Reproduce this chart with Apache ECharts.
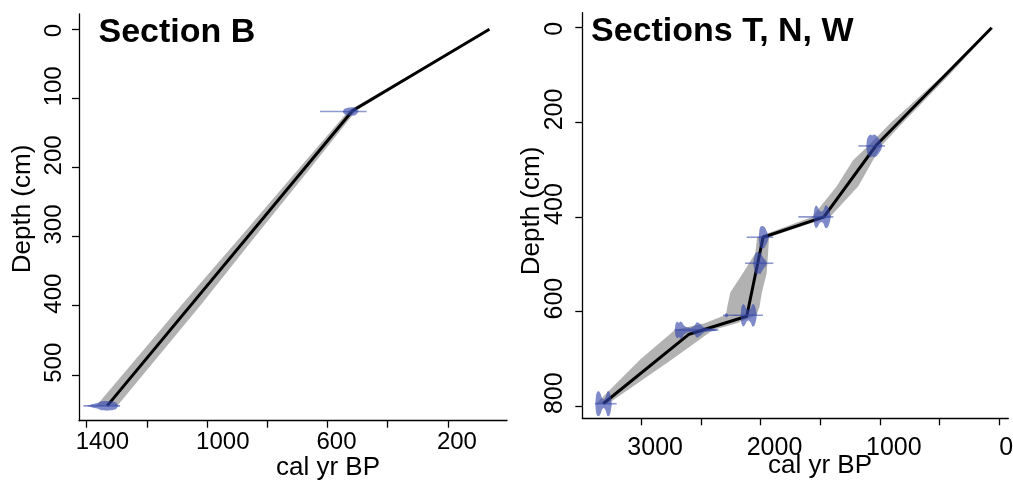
<!DOCTYPE html>
<html><head><meta charset="utf-8">
<script src="https://cdn.jsdelivr.net/npm/echarts@6/dist/echarts.min.js"></script>
<style>html,body{margin:0;padding:0;background:#fff}#c{width:1013px;height:483px}</style>
</head><body><div id="c"></div>
<script>
// ---------- Section B ----------
const bLine = [[62, 0], [517, 118], [1332, 545]];          // [cal yr BP, depth cm]
const bBandDepth = [0, 118, 200, 300, 400, 545];
const bBandYoung = [59, 505, 655, 840, 1023, 1298];
const bBandOld   = [65, 530, 692, 888, 1087, 1368];
const bDateDepth = [119, 545];
const bDateMin   = [470, 1289];
const bDateMax   = [625, 1411];
const bDateProfiles = [                                     // [age, half-height in cm]
  [[550, 0], [543, 4], [532, 5.5], [518, 6], [506, 5], [496, 0]],
  [[1400, 0], [1385, 2], [1365, 4], [1350, 6.5], [1335, 7], [1318, 6.5], [1303, 5], [1294, 0]]
];
const bXTicks  = [200, 400, 600, 800, 1000, 1200, 1400];
const bXLabels = [200, 600, 1000, 1400];
const bYTicks  = [0, 100, 200, 300, 400, 500];

// ---------- Sections T, N, W ----------
const tLine = [[64, 0], [1030, 248], [1470, 400], [1980, 443], [2117, 610], [2600, 648], [3320, 795]];
const tBandDepth = [0, 100, 200, 250, 280, 335, 400, 443, 477, 519, 560, 590, 607, 625, 639, 700, 795];
const tBandYoung = [55, 420, 805, 990, 1059, 1182, 1420, 1930, 1938, 1950, 1990, 2010, 2034, 2200, 2400, 2735, 3280];
const tBandOld   = [75, 470, 905, 1100, 1226, 1363, 1570, 2030, 2045, 2150, 2255, 2280, 2290, 2470, 2720, 3003, 3380];
const tDateDepth = [250, 400, 443, 498, 608, 639, 795];
const tDateMin   = [958, 1391, 1894, 1894, 1981, 2355, 3207];
const tDateMax   = [1182, 1685, 2117, 2131, 2316, 2722, 3389];
const tDateProfiles = [
  [[1115, 0], [1108, 15], [1095, 21], [1080, 24], [1066, 22], [1052, 24], [1038, 23], [1024, 20], [1008, 15], [993, 9], [980, 0]],
  [[1558, 0], [1550, 17], [1537, 24], [1522, 21], [1506, 13], [1490, 11], [1474, 14], [1460, 23], [1447, 24], [1432, 19], [1420, 10], [1412, 0]],
  [[2016, 0], [2010, 17], [1999, 23], [1985, 24], [1969, 22], [1953, 15], [1941, 8], [1934, 0]],
  [[2064, 0], [2055, 11], [2042, 22], [2028, 24], [2015, 21], [2003, 23], [1990, 17], [1973, 10], [1956, 6], [1947, 0]],
  [[2302, 0], [2294, 4], [2280, 4], [2272, 0], [2170, 0], [2162, 17], [2148, 24], [2133, 21], [2118, 13], [2100, 11], [2084, 15], [2068, 24], [2053, 22], [2040, 12], [2032, 0]],
  [[2720, 0], [2713, 13], [2700, 18], [2686, 15], [2672, 18], [2658, 16], [2645, 10], [2628, 7], [2610, 5], [2590, 4], [2570, 6], [2553, 10], [2538, 16], [2522, 15], [2505, 12], [2488, 8], [2470, 5], [2450, 4], [2420, 3], [2380, 2], [2362, 0]],
  [[3386, 0], [3379, 19], [3368, 26], [3353, 26], [3340, 20], [3328, 11], [3312, 9], [3298, 15], [3285, 26], [3270, 26], [3258, 18], [3247, 0]]
];
const tXTicks  = [0, 500, 1000, 1500, 2000, 2500, 3000];
const tXLabels = [0, 1000, 2000, 3000];
const tYTicks  = [0, 200, 400, 600, 800];

const FONT = '"Liberation Sans", Arial, Helvetica, sans-serif';
const BAND = 'rgba(0,0,0,0.3)';
const BLOB = 'rgba(50,70,170,0.63)';
const BAR  = 'rgba(50,70,170,0.55)';

function bandSeries(idx, depth, young, old) {
  return {
    type: 'custom', xAxisIndex: idx, yAxisIndex: idx, z: 2, silent: true,
    data: depth.map((d, i) => [young[i], d, old[i]]),
    encode: { x: [0, 2], y: 1 },
    renderItem: function (params, api) {
      if (params.dataIndex !== 0) return null;
      const pts = [];
      for (let i = 0; i < depth.length; i++) pts.push(api.coord([young[i], depth[i]]));
      for (let i = depth.length - 1; i >= 0; i--) pts.push(api.coord([old[i], depth[i]]));
      return { type: 'polygon', shape: { points: pts }, style: { fill: BAND } };
    }
  };
}
function dateSeries(idx, depth, mn, mx, profiles) {
  return {
    type: 'custom', xAxisIndex: idx, yAxisIndex: idx, z: 4, silent: true,
    data: depth.map((d, i) => [(mn[i] + mx[i]) / 2, d, mn[i], mx[i], i]),
    encode: { x: [2, 3], y: 1 },
    renderItem: function (params, api) {
      const d = api.value(1);
      const prof = profiles[api.value(4)];
      const top = prof.map(p => api.coord([p[0], d - p[1]]));
      const bot = prof.slice().reverse().map(p => api.coord([p[0], d + p[1]]));
      const a = api.coord([api.value(2), d]);
      const b = api.coord([api.value(3), d]);
      return {
        type: 'group', children: [
          { type: 'line', shape: { x1: a[0], y1: a[1], x2: b[0], y2: b[1] }, style: { stroke: BAR, lineWidth: 1.6 } },
          { type: 'polygon', shape: { points: top.concat(bot), smooth: 0.15 }, style: { fill: BLOB } }
        ]
      };
    }
  };
}
function lineSeries(idx, data) {
  return {
    type: 'line', xAxisIndex: idx, yAxisIndex: idx, z: 3, silent: true,
    data: data, symbol: 'none', lineStyle: { color: '#000', width: 3 }
  };
}
function xAxis(idx, min, max, ticks, labels, fs, margin, padLeft, zeroPad) {
  return {
    type: 'value', gridIndex: idx, min: min, max: max, inverse: true,
    splitLine: { show: false },
    axisLine: { show: true, onZero: false, lineStyle: { color: '#000', width: 1.3 } },
    axisTick: { show: true, inside: false, length: 7, customValues: ticks, lineStyle: { color: '#000', width: 1.3 } },
    axisLabel: {
      customValues: labels, color: '#000', fontSize: fs, fontFamily: FONT,
      align: 'left', margin: margin, padding: [0, 0, 0, padLeft],
      formatter: function (v) { return (v === 0 && zeroPad) ? '{z|0}' : String(v); },
      rich: { z: { fontSize: fs, fontFamily: FONT, color: '#000', padding: [0, 0, 0, zeroPad || 0] } }
    }
  };
}
function yAxis(idx, min, max, ticks, fs, margin) {
  return {
    type: 'value', gridIndex: idx, min: min, max: max, inverse: true,
    splitLine: { show: false },
    axisLine: { show: true, onZero: false, lineStyle: { color: '#000', width: 1.3 } },
    axisTick: { show: true, inside: false, length: 7, customValues: ticks, lineStyle: { color: '#000', width: 1.3 } },
    axisLabel: {
      customValues: ticks, color: '#000', fontSize: fs, fontFamily: FONT,
      rotate: 90, align: 'left', margin: margin, padding: [0, 0, 0, -8]
    }
  };
}
function txt(text, x, y, size, bold, rot, align) {
  return {
    type: 'text', x: x, y: y, rotation: rot || 0, silent: true,
    style: {
      text: text, fill: '#000', font: (bold ? 'bold ' : '') + size + 'px ' + FONT,
      textAlign: align || 'center', textVerticalAlign: 'middle'
    }
  };
}

const chart = echarts.init(document.getElementById('c'), null, { renderer: 'canvas' });
chart.setOption({
  animation: false,
  backgroundColor: '#fff',
  grid: [
    { left: 79, top: 14, width: 428, height: 406.7, containLabel: false, outerBoundsMode: 'none' },
    { left: 582.3, top: 12.7, width: 426, height: 405.6, containLabel: false, outerBoundsMode: 'none' }
  ],
  xAxis: [
    xAxis(0, 3.6, 1425.6, bXTicks, bXLabels, 24, 10, -11, 0),
    xAxis(1, -75, 3495, tXTicks, tXLabels, 25, 17, -14, 14)
  ],
  yAxis: [
    yAxis(0, -22.1, 566.5, bYTicks, 24, 13),
    yAxis(1, -31.7, 825.8, tYTicks, 25, 15)
  ],
  series: [
    bandSeries(0, bBandDepth, bBandYoung, bBandOld),
    lineSeries(0, bLine),
    dateSeries(0, bDateDepth, bDateMin, bDateMax, bDateProfiles),
    bandSeries(1, tBandDepth, tBandYoung, tBandOld),
    lineSeries(1, tLine),
    dateSeries(1, tDateDepth, tDateMin, tDateMax, tDateProfiles)
  ],
  graphic: [
    txt('Section B', 98.5, 32.5, 34, true, 0, 'left'),
    txt('Sections T, N, W', 591, 31.5, 34, true, 0, 'left'),
    txt('cal yr BP', 328, 468, 26),
    txt('cal yr BP', 820, 466, 26),
    txt('Depth (cm)', 23, 209, 26, false, Math.PI / 2),
    txt('Depth (cm)', 531.6, 211, 26, false, Math.PI / 2)
  ]
});
</script></body></html>
